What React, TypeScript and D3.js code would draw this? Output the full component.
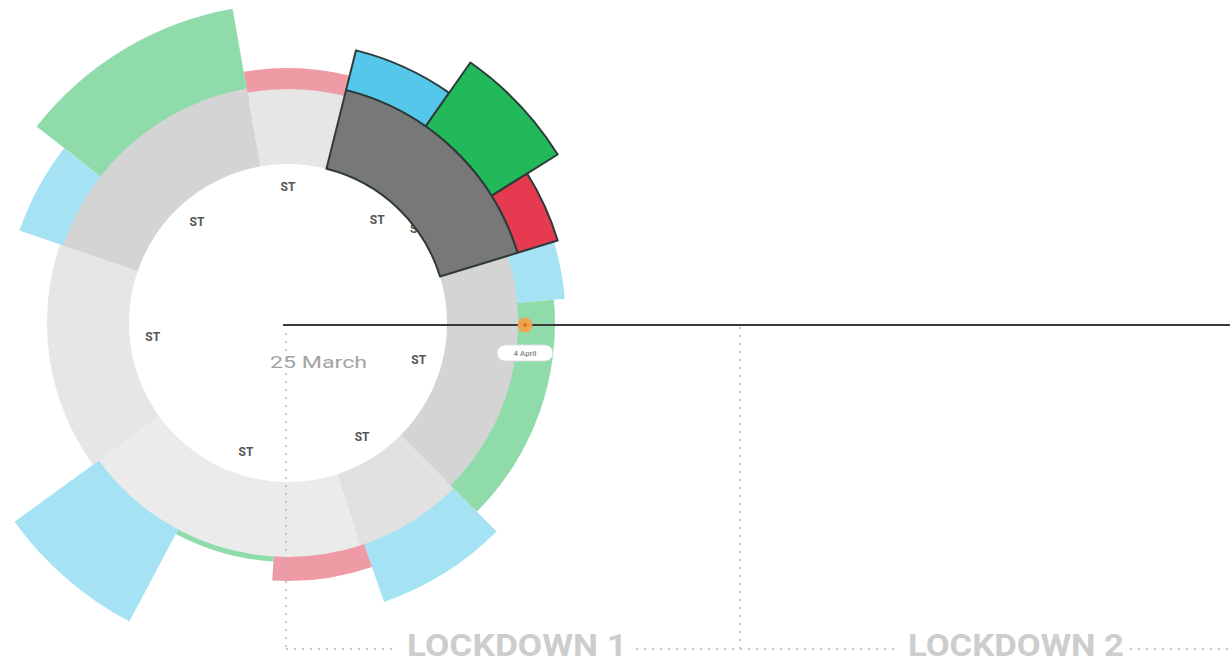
import React from "react";
import * as d3 from "d3";

// ---- DATA ----
// ring segments (degrees, clockwise from 12 o'clock)
const segmentBounds = [-10, 14, 73, 135, 162, 234, 289, 350];
const segmentTone = [1, 4, 3, 2, 0, 1, 3]; // shade level of each segment
const segmentExtent = [-2, 4, -6, -2, -2, 5, 2]; // outer-edge value of each segment
const highlightedSegment = 1;

// outer bands
const bandStart = [-10, 14, 35, 58, 73, 85, 135, 161, 183.5, 208, 289, 308];
const bandEnd = [14, 35, 58, 73, 85, 135, 161, 183.5, 208, 234, 308, 350];
const bandValue = [19, 45, 82, 46, 42, 31, 59, 22, 3, 102, 48, 83];
const bandType = ["pink", "blue", "green", "red", "blue", "green", "blue", "pink", "green", "blue", "blue", "green"];
const bandHighlighted = [false, true, true, true, false, false, false, false, false, false, false, false];

// labels inside the ring
const labelAngles = [0, -42, -96, -162, 147, 106, 41];
const hiddenLabelAngle = 54;
const labelText = "ST";

const centerLabel = "25 March";
const markerLabel = "4 April";
const phases = ["LOCKDOWN 1", "LOCKDOWN 2"];

// ---- STYLE ----
const toneColor = d3.scaleOrdinal<number, string>().domain([0, 1, 2, 3, 4]).range(["#ebebeb", "#e6e6e6", "#e1e1e1", "#d4d4d4", "#787878"]);
const bandColor = d3.scaleOrdinal<string, string>().domain(["pink", "blue", "green", "red"]).range(["#ee9ba6", "#a5e2f4", "#8fdcaa", "#e63a50"]);
const bandColorHi = d3.scaleOrdinal<string, string>().domain(["pink", "blue", "green", "red"]).range(["#ee9ba6", "#55c7eb", "#22b95b", "#e63a50"]);

const W = 1230, H = 666;
const cx = 288, cy = 323;

const angle = d3.scaleLinear().domain([0, 360]).range([0, 2 * Math.PI]);
const radial = d3.scaleLinear().domain([0, 100]).range([236, 336]);
const innerR = 159;

const arcGen = d3.arc<any>();

function polar(deg: number, r: number): [number, number] {
  const a = angle(deg);
  return [cx + r * Math.sin(a), cy - r * Math.cos(a)];
}

export default function App() {
  const segments = segmentTone.map((t, i) => ({
    i,
    tone: t,
    d: arcGen({
      innerRadius: innerR,
      outerRadius: radial(segmentExtent[i]),
      startAngle: angle(segmentBounds[i]),
      endAngle: angle(segmentBounds[i + 1]),
    }) as string,
  }));

  const bands = bandValue.map((v, i) => ({
    i,
    type: bandType[i],
    hi: bandHighlighted[i],
    d: arcGen({
      innerRadius: bandHighlighted[i] ? radial(segmentExtent[highlightedSegment]) : 224,
      outerRadius: radial(v),
      startAngle: angle(bandStart[i]),
      endAngle: angle(bandEnd[i]),
    }) as string,
  }));

  const stroke = "#2e3b3b";
  const dotColor = "#b4b4b4";
  const lineY = 325;
  const baseY = 649;
  const v1 = 286;
  const v2 = 740;

  const [hx, hy] = polar(hiddenLabelAngle, 160);

  return (
    <svg width={W} height={H} style={{ position: "absolute", left: 0, top: 0, background: "#fff" }} fontFamily="Roboto, sans-serif">
      {/* plain bands */}
      {bands.filter((b) => !b.hi).map((b) => (
        <path key={"b" + b.i} d={b.d} transform={`translate(${cx},${cy})`} fill={bandColor(b.type)} />
      ))}
      {/* ring */}
      {segments.filter((s) => s.i !== highlightedSegment).map((s) => (
        <path key={"s" + s.i} d={s.d} transform={`translate(${cx},${cy})`} fill={toneColor(s.tone)} />
      ))}
      {/* labels */}
      <text x={hx} y={hy} textAnchor="middle" dominantBaseline="central" fontSize={12} fontWeight={700} fill="#555">{labelText}</text>
      {labelAngles.map((a, i) => {
        const [x, y] = polar(a, 136);
        return (
          <text key={"l" + i} x={x} y={y} textAnchor="middle" dominantBaseline="central" fontSize={12} fontWeight={700} fill="#555">{labelText}</text>
        );
      })}
      {/* highlighted */}
      {bands.filter((b) => b.hi).map((b) => (
        <path key={"h" + b.i} d={b.d} transform={`translate(${cx},${cy})`} fill={bandColorHi(b.type)} stroke={stroke} strokeWidth={2} strokeLinejoin="round" />
      ))}
      {segments.filter((s) => s.i === highlightedSegment).map((s) => (
        <path key={"hs" + s.i} d={s.d} transform={`translate(${cx},${cy})`} fill={toneColor(s.tone)} stroke={stroke} strokeWidth={2} strokeLinejoin="round" />
      ))}

      {/* center label */}
      <text x={270} y={368} fontSize={17} fill="#a3a3a3" textLength={97} lengthAdjust="spacingAndGlyphs">{centerLabel}</text>

      {/* dotted timeline frame */}
      <line x1={v1} x2={v1} y1={lineY + 8} y2={baseY} stroke={dotColor} strokeWidth={1.5} strokeDasharray="2 6" />
      <line x1={v2} x2={v2} y1={lineY + 2} y2={baseY} stroke={dotColor} strokeWidth={1.5} strokeDasharray="2 6" />
      <line x1={v1} x2={394} y1={baseY} y2={baseY} stroke={dotColor} strokeWidth={1.5} strokeDasharray="2 6" />
      <line x1={636} x2={900} y1={baseY} y2={baseY} stroke={dotColor} strokeWidth={1.5} strokeDasharray="2 6" />
      <line x1={1130} x2={W} y1={baseY} y2={baseY} stroke={dotColor} strokeWidth={1.5} strokeDasharray="2 6" />
      <text x={407} y={656} fontSize={32} fontWeight={700} fill="#cdcdcd" textLength={220} lengthAdjust="spacingAndGlyphs">{phases[0]}</text>
      <text x={908} y={656} fontSize={32} fontWeight={700} fill="#cdcdcd" textLength={216} lengthAdjust="spacingAndGlyphs">{phases[1]}</text>

      {/* time line */}
      <line x1={283} x2={W} y1={lineY} y2={lineY} stroke="#3a3a3a" strokeWidth={2} />
      <circle cx={525} cy={lineY} r={7.5} fill="#f4a04c" opacity={0.95} />
      <circle cx={525} cy={lineY} r={2} fill="#d9772a" />
      <rect x={497} y={345} width={56} height={16} rx={8} fill="#fff" stroke="#dcdcdc" strokeWidth={1} />
      <text x={525} y={353} textAnchor="middle" dominantBaseline="central" fontSize={8} fill="#666">{markerLabel}</text>
    </svg>
  );
}
